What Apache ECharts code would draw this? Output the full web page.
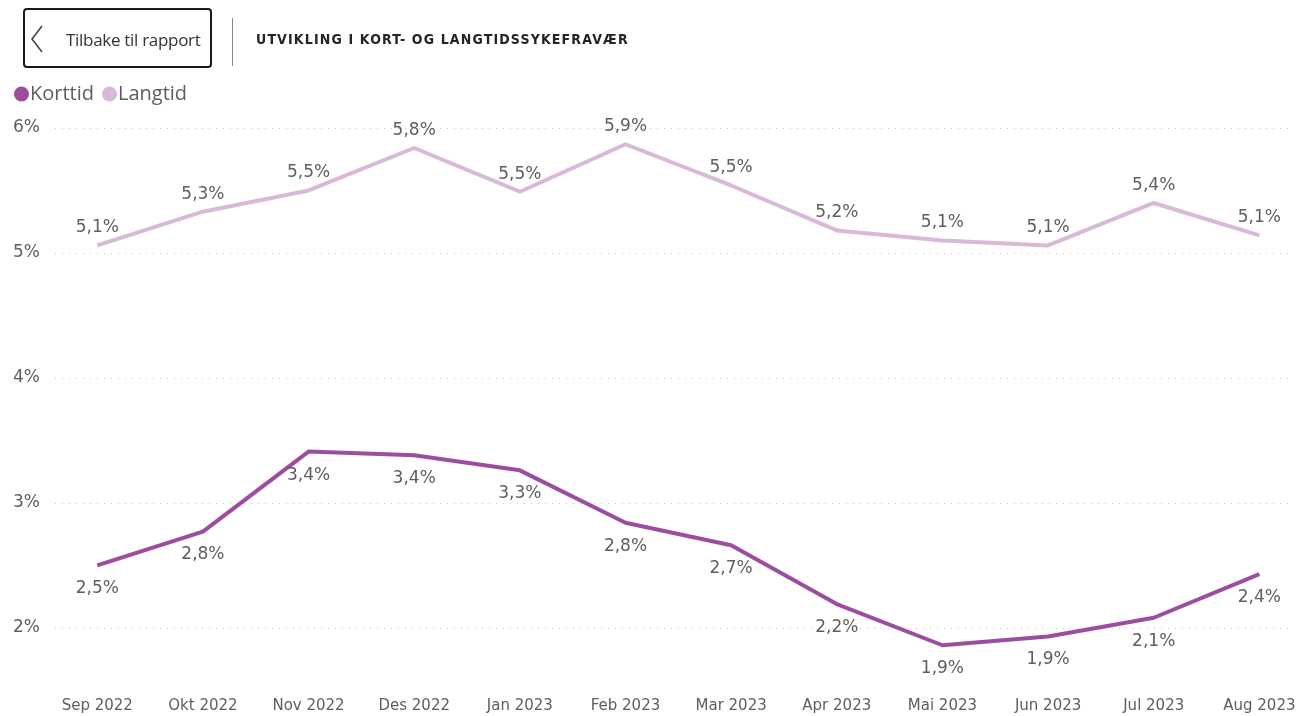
<!DOCTYPE html>
<html>
<head>
<meta charset="utf-8">
<script src="https://cdn.jsdelivr.net/npm/echarts@6/dist/echarts.min.js"></script>
<style>
  html, body { margin: 0; padding: 0; background: #fff; }
  #wrap { position: relative; width: 1299px; height: 716px; }
  #chart { position: absolute; left: 0; top: 0; width: 1299px; height: 716px; }
  .back {
    position: absolute; left: 23px; top: 8px; width: 185px; height: 56px;
    border: 2px solid #1a1a1a; border-radius: 4px; box-sizing: content-box;
    font-family: "Open Sans", "Noto Sans", sans-serif; font-size: 17px; color: #333;
  }
  .back svg { position: absolute; left: 4px; top: 14px; }
  .back span { position: absolute; left: 41px; top: 18px; letter-spacing: -0.3px; }
  .sep { position: absolute; left: 232px; top: 18px; width: 1px; height: 48px; background: #888; }
  .title {
    position: absolute; left: 256px; top: 31px;
    font-family: "DejaVu Sans Condensed", "DejaVu Sans", sans-serif; font-weight: bold;
    font-size: 14px; letter-spacing: 1.15px; color: #252423;
  }
</style>
</head>
<body>
<div id="wrap">
  <div id="chart"></div>
  <div class="back">
    <svg width="16" height="30" viewBox="0 0 16 30"><polyline points="13,2 3,15 13,28" fill="none" stroke="#444" stroke-width="1.6"/></svg>
    <span>Tilbake til rapport</span>
  </div>
  <div class="sep"></div>
  <div class="title">UTVIKLING I KORT- OG LANGTIDSSYKEFRAVÆR</div>
</div>
<script>
// måneder
const months = ['Sep 2022', 'Okt 2022', 'Nov 2022', 'Des 2022', 'Jan 2023', 'Feb 2023',
  'Mar 2023', 'Apr 2023', 'Mai 2023', 'Jun 2023', 'Jul 2023', 'Aug 2023'];

// sykefravær i prosent
const korttid = [2.50, 2.77, 3.41, 3.38, 3.26, 2.84, 2.66, 2.19, 1.86, 1.93, 2.08, 2.43];
const langtid = [5.06, 5.33, 5.50, 5.84, 5.49, 5.87, 5.54, 5.18, 5.10, 5.06, 5.40, 5.14];

const yTicks = [2, 3, 4, 5, 6];

const pct = v => v.toFixed(1).replace('.', ',') + '%';
const toPoints = arr => arr.map((v, i) => [i, v]);

const chart = echarts.init(document.getElementById('chart'));

const labelStyle = {
  show: true,
  fontFamily: 'DejaVu Sans',
  fontSize: 17,
  color: '#605E5C',
  formatter: p => pct(p.value[1])
};

chart.setOption({
  animation: false,
  legend: {
    left: 9,
    top: 79,
    icon: 'circle',
    itemWidth: 15,
    itemHeight: 15,
    itemGap: 8,
    textStyle: {
      fontFamily: 'Open Sans',
      fontSize: 20,
      color: '#605E5C',
      padding: [0, 0, 0, -4]
    },
    data: ['Korttid', 'Langtid']
  },
  grid: {
    left: 55,
    right: 9,
    top: 128,
    bottom: 57
  },
  xAxis: {
    type: 'value',
    min: -0.4,
    max: 11.29,
    axisLine: { show: false },
    axisTick: { show: false },
    splitLine: { show: false },
    axisLabel: {
      customValues: months.map((m, i) => i),
      formatter: v => months[v],
      margin: 40,
      fontFamily: 'DejaVu Sans',
      fontSize: 15,
      color: '#605E5C'
    }
  },
  yAxis: {
    type: 'value',
    min: 1.75,
    max: 6,
    axisLine: { show: false },
    axisTick: { show: false, customValues: yTicks },
    axisLabel: {
      customValues: yTicks,
      margin: 15,
      fontFamily: 'DejaVu Sans',
      fontSize: 17,
      color: '#605E5C',
      formatter: v => v + '%'
    },
    splitLine: {
      lineStyle: { color: '#C8C6C4', type: [1, 6], width: 1 }
    }
  },
  series: [
    {
      name: 'Korttid',
      type: 'line',
      data: toPoints(korttid),
      symbol: 'circle',
      symbolSize: 0,
      showSymbol: true,
      color: '#9C4DA0',
      lineStyle: { width: 4 },
      label: Object.assign({ position: 'bottom', distance: 15 }, labelStyle)
    },
    {
      name: 'Langtid',
      type: 'line',
      data: toPoints(langtid),
      symbol: 'circle',
      symbolSize: 0,
      showSymbol: true,
      color: '#D8B9D9',
      lineStyle: { width: 4 },
      label: Object.assign({ position: 'top', distance: 9 }, labelStyle)
    }
  ]
});
</script>
</body>
</html>
